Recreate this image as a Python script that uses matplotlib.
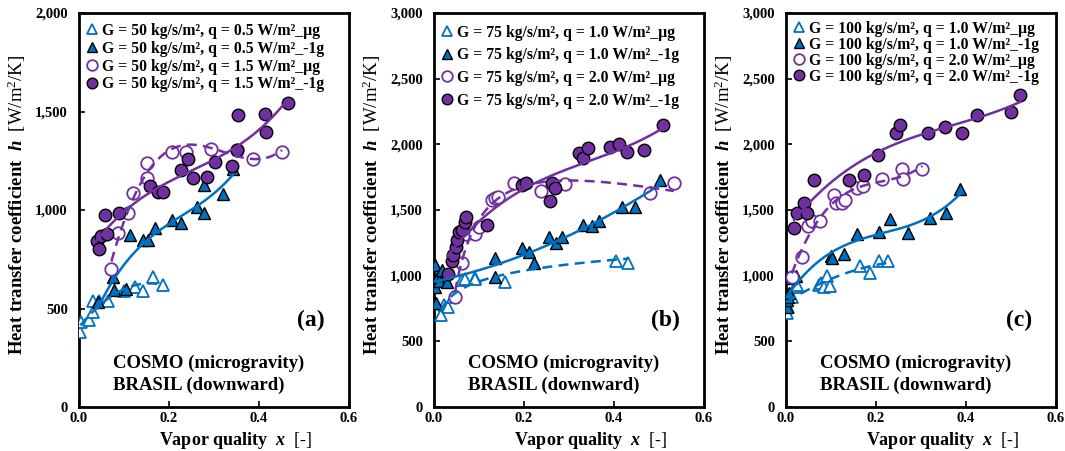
import numpy as np
import matplotlib
matplotlib.use("Agg")
import matplotlib.pyplot as plt

plt.rcParams['font.family'] = ['Liberation Serif', 'DejaVu Serif']
plt.rcParams['mathtext.fontset'] = 'custom'
plt.rcParams['mathtext.rm'] = 'Liberation Serif'
plt.rcParams['mathtext.it'] = 'Liberation Serif:italic'
plt.rcParams['mathtext.bf'] = 'Liberation Serif:bold'
plt.rcParams['mathtext.bfit'] = 'Liberation Serif:italic:bold'

BLUE = '#0070C0'
PURPLE = '#7030A0'

# ---------------- Panel (a): G = 50 ----------------
a_open_tri_x = [0.003, 0.005, 0.022, 0.031, 0.031, 0.045, 0.064, 0.100, 0.125, 0.142, 0.164, 0.186]
a_open_tri_h = [380, 430, 440, 480, 540, 540, 540, 590, 610, 590, 660, 620]
a_fill_tri_x = [0.042, 0.076, 0.078, 0.104, 0.113, 0.142, 0.153, 0.169, 0.207, 0.227, 0.262, 0.278, 0.278, 0.320, 0.342]
a_fill_tri_h = [535, 660, 594, 600, 873, 848, 848, 910, 950, 935, 1015, 985, 1127, 1080, 1210]
a_open_cir_x = [0.072, 0.087, 0.109, 0.120, 0.151, 0.151, 0.207, 0.238, 0.293, 0.351, 0.387, 0.451]
a_open_cir_h = [700, 885, 985, 1085, 1160, 1240, 1295, 1295, 1310, 1305, 1260, 1295]
a_fill_cir_x = [0.040, 0.044, 0.048, 0.058, 0.062, 0.088, 0.157, 0.176, 0.186, 0.227, 0.242, 0.253, 0.284, 0.302, 0.340, 0.350, 0.353, 0.413, 0.415, 0.464]
a_fill_cir_h = [845, 800, 870, 975, 880, 985, 1120, 1090, 1090, 1205, 1260, 1160, 1165, 1245, 1225, 1305, 1480, 1485, 1395, 1545]
a_labels = ['G = 50 kg/s/m², q = 0.5 W/m²_µg', 'G = 50 kg/s/m², q = 0.5 W/m²_-1g',
            'G = 50 kg/s/m², q = 1.5 W/m²_µg', 'G = 50 kg/s/m², q = 1.5 W/m²_-1g']

# ---------------- Panel (b): G = 75 ----------------
b_open_tri_x = [0.016, 0.022, 0.030, 0.042, 0.063, 0.068, 0.090, 0.092, 0.157, 0.404, 0.430]
b_open_tri_h = [700, 775, 760, 840, 965, 975, 985, 975, 955, 1110, 1100]
b_fill_tri_x = [0.002, 0.003, 0.004, 0.008, 0.012, 0.018, 0.028, 0.135, 0.136, 0.195, 0.212, 0.222, 0.255, 0.272, 0.284, 0.330, 0.352, 0.366, 0.418, 0.447, 0.502]
b_fill_tri_h = [1080, 915, 790, 1000, 960, 1045, 955, 1135, 990, 1210, 1180, 1100, 1295, 1250, 1295, 1385, 1375, 1415, 1520, 1520, 1725]
b_open_cir_x = [0.047, 0.062, 0.070, 0.090, 0.100, 0.128, 0.135, 0.142, 0.178, 0.238, 0.290, 0.480, 0.533]
b_open_cir_h = [840, 1095, 1320, 1320, 1370, 1575, 1590, 1600, 1705, 1645, 1700, 1630, 1705]
b_fill_cir_x = [0.030, 0.040, 0.043, 0.048, 0.052, 0.056, 0.062, 0.069, 0.072, 0.118, 0.196, 0.205, 0.258, 0.262, 0.268, 0.323, 0.330, 0.342, 0.390, 0.410, 0.428, 0.467, 0.508]
b_fill_cir_h = [1015, 1110, 1160, 1215, 1275, 1330, 1345, 1410, 1445, 1385, 1690, 1705, 1570, 1705, 1665, 1935, 1895, 1975, 1980, 2005, 1940, 1955, 2145]
b_labels = ['G = 75 kg/s/m², q = 1.0 W/m²_µg', 'G = 75 kg/s/m², q = 1.0 W/m²_-1g',
            'G = 75 kg/s/m², q = 2.0 W/m²_µg', 'G = 75 kg/s/m², q = 2.0 W/m²_-1g']

# ---------------- Panel (c): G = 100 ----------------
c_open_tri_x = [0.002, 0.005, 0.013, 0.020, 0.025, 0.073, 0.078, 0.085, 0.090, 0.097, 0.165, 0.187, 0.207, 0.227]
c_open_tri_h = [715, 760, 840, 915, 930, 930, 945, 915, 1000, 925, 1070, 1020, 1110, 1110]
c_fill_tri_x = [0.002, 0.003, 0.004, 0.006, 0.012, 0.022, 0.100, 0.102, 0.128, 0.158, 0.207, 0.232, 0.272, 0.320, 0.356, 0.386]
c_fill_tri_h = [760, 815, 840, 870, 985, 1000, 1150, 1135, 1165, 1315, 1335, 1430, 1325, 1440, 1480, 1660]
c_open_cir_x = [0.013, 0.036, 0.048, 0.058, 0.076, 0.107, 0.111, 0.124, 0.131, 0.158, 0.172, 0.214, 0.257, 0.260, 0.303]
c_open_cir_h = [990, 1140, 1375, 1420, 1420, 1615, 1555, 1550, 1575, 1670, 1680, 1735, 1815, 1735, 1815]
c_fill_cir_x = [0.018, 0.024, 0.040, 0.047, 0.062, 0.140, 0.174, 0.205, 0.245, 0.254, 0.316, 0.354, 0.392, 0.425, 0.500, 0.521]
c_fill_cir_h = [1365, 1480, 1550, 1475, 1725, 1730, 1770, 1915, 2090, 2145, 2090, 2130, 2085, 2220, 2245, 2375]
c_labels = ['G = 100 kg/s/m², q = 1.0 W/m²_µg', 'G = 100 kg/s/m², q = 1.0 W/m²_-1g',
            'G = 100 kg/s/m², q = 2.0 W/m²_µg', 'G = 100 kg/s/m², q = 2.0 W/m²_-1g']

panel_tags = ['(a)', '(b)', '(c)']
y_limits = [2000, 3000, 3000]
y_ticks = [[0, 500, 1000, 1500, 2000], [0, 500, 1000, 1500, 2000, 2500, 3000], [0, 500, 1000, 1500, 2000, 2500, 3000]]
x_ticks = [0.0, 0.2, 0.4, 0.6]

# trend-line model per series: (open_tri, fill_tri, open_cir, fill_cir)
fits = [('poly2', 'poly3', 'poly3', 'poly3'),
        ('log', 'poly2', 'logpoly2', 'poly3'),
        ('poly2', 'poly3', 'poly3', 'poly3')]


def trend(x, y, model):
    x = np.asarray(x, float)
    y = np.asarray(y, float)
    xs = np.linspace(x.min(), x.max(), 200)
    if model == 'log':
        c = np.polyfit(np.log(x), y, 1)
        return xs, np.polyval(c, np.log(xs))
    if model == 'logpoly2':
        c = np.polyfit(np.log(x), y, 2)
        return xs, np.polyval(c, np.log(xs))
    deg = int(model[-1])
    c = np.polyfit(x, y, deg)
    return xs, np.polyval(c, xs)


panels = [
    (a_open_tri_x, a_open_tri_h, a_fill_tri_x, a_fill_tri_h, a_open_cir_x, a_open_cir_h, a_fill_cir_x, a_fill_cir_h, a_labels),
    (b_open_tri_x, b_open_tri_h, b_fill_tri_x, b_fill_tri_h, b_open_cir_x, b_open_cir_h, b_fill_cir_x, b_fill_cir_h, b_labels),
    (c_open_tri_x, c_open_tri_h, c_fill_tri_x, c_fill_tri_h, c_open_cir_x, c_open_cir_h, c_fill_cir_x, c_fill_cir_h, c_labels),
]

fig = plt.figure(figsize=(10.65, 4.51), dpi=100)
lefts = [79, 434, 786]
leg_spacing = [0.12, 0.42, 0.0]
leg_anchor_y = [0.995, 0.99, 1.0]
W, H = 1065, 451

for i, (otx, oth, ftx, fth, ocx, och, fcx, fch, labels) in enumerate(panels):
    ax = fig.add_axes([lefts[i] / W, (H - 407) / H, 270 / W, 394 / H])
    ms = 9
    h1, = ax.plot(otx, oth, linestyle='none', marker='^', ms=ms, mfc='white', mec=BLUE, mew=1.3, zorder=3)
    h2, = ax.plot(ftx, fth, linestyle='none', marker='^', ms=ms, mfc=BLUE, mec='black', mew=1.0, zorder=3)
    h3, = ax.plot(ocx, och, linestyle='none', marker='o', ms=ms, mfc='white', mec=PURPLE, mew=1.3, zorder=3)
    h4, = ax.plot(fcx, fch, linestyle='none', marker='o', ms=ms, mfc=PURPLE, mec='black', mew=1.0, zorder=3)
    series = [(otx, oth, BLUE, (0, (4, 2.5))), (ftx, fth, BLUE, '-'),
              (ocx, och, PURPLE, (0, (4, 2.5))), (fcx, fch, PURPLE, '-')]
    for (sx, sy, col, ls), model in zip(series, fits[i]):
        tx, ty = trend(sx, sy, model)
        ax.plot(tx, ty, color=col, lw=1.8, linestyle=ls, zorder=4)

    ax.set_xlim(0, 0.6)
    ax.set_ylim(0, y_limits[i])
    ax.set_xticks(x_ticks)
    ax.set_xticklabels([f'{t:.1f}' for t in x_ticks])
    ax.set_yticks(y_ticks[i])
    ax.set_yticklabels([f'{t:,}' for t in y_ticks[i]])
    ax.tick_params(direction='in', length=4, width=1.2, labelsize=10.5)
    ax.tick_params(axis='x', pad=3.5)
    ax.tick_params(axis='y', pad=8)
    for lab in ax.get_xticklabels() + ax.get_yticklabels():
        lab.set_fontweight('bold')
    for sp in ax.spines.values():
        sp.set_linewidth(2.0)

    ax.legend([h1, h2, h3, h4], labels, loc='upper left', bbox_to_anchor=(0.0, leg_anchor_y[i]),
              frameon=False, prop={'family': 'Liberation Serif', 'weight': 'bold', 'size': 11.3},
              handlelength=0.7, handletextpad=0.25, borderpad=0.3, borderaxespad=0.2,
              labelspacing=leg_spacing[i], markerscale=0.85)

    ax.text(0.91, 0.22, panel_tags[i], transform=ax.transAxes, ha='right', va='center',
            fontsize=17, fontweight='bold')
    ax.text(0.126, 0.112, 'COSMO (microgravity)', transform=ax.transAxes, ha='left', va='center',
            fontsize=13.5, fontweight='bold')
    ax.text(0.126, 0.056, 'BRASIL (downward)', transform=ax.transAxes, ha='left', va='center',
            fontsize=13.5, fontweight='bold')

    ax.set_xlabel('Vapor quality  $\\mathbfit{x}$  $\\mathrm{[\u2010]}$', fontsize=13, fontweight='bold')
    ax.xaxis.set_label_coords(0.58, -0.058)
    ax.set_ylabel(r'Heat transfer coefficient  $\mathbfit{h}$  $\mathrm{[W/m^2/K]}$', fontsize=13.5,
                  fontweight='bold')
    ax.yaxis.set_label_coords(-0.19, 0.513)

fig.savefig('out.png', dpi=100)
